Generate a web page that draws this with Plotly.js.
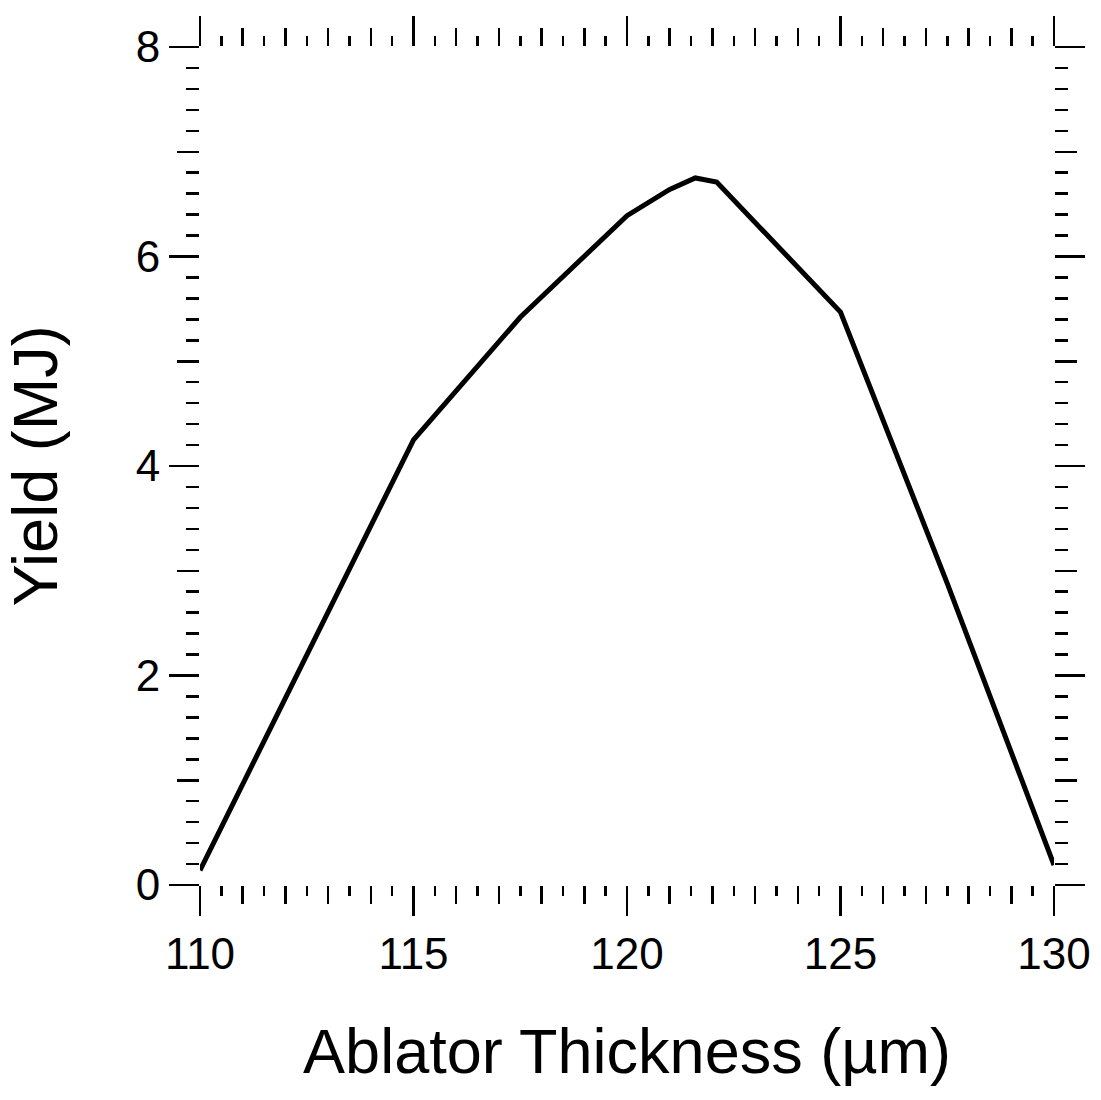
<!DOCTYPE html>
<html>
<head>
<meta charset="utf-8">
<script src="https://cdn.plot.ly/plotly-3.0.1.min.js"></script>
<style>html,body{margin:0;padding:0;background:#fff;}#chart{width:1101px;height:1100px;}</style>
</head>
<body>
<div id="chart"></div>
<script>
// Ablator thickness (µm) and yield (MJ)
const thickness = [110, 115, 117.5, 120, 121, 121.6, 122.1, 125, 127.5, 130];
const yieldMJ   = [0.14, 4.25, 5.42, 6.39, 6.64, 6.75, 6.71, 5.47, 2.88, 0.19];
const xTickVals = [110, 115, 120, 125, 130];
const xTickText = ['110', '115', '120', '125', '130'];
const yTickVals = [0, 2, 4, 6, 8];
const yTickText = ['0', '2', '4', '6', '8'];
const xTitle = 'Ablator Thickness (\u00b5m)';
const yTitle = 'Yield (MJ)';

const FONT = 'Liberation Sans, Arial, Helvetica, sans-serif';
const xRange = [110, 130];
const yRange = [0, 8];

const traces = [
  {
    x: thickness, y: yieldMJ, type: 'scatter', mode: 'lines',
    line: {color: '#000', width: 5}, hoverinfo: 'skip', showlegend: false
  },
  {
    x: thickness, y: yieldMJ, type: 'scatter', mode: 'lines',
    xaxis: 'x2', yaxis: 'y2',
    line: {color: 'rgba(0,0,0,0)', width: 0}, hoverinfo: 'skip', showlegend: false
  }
];

const common = {
  showgrid: false, zeroline: false, showline: false,
  ticks: 'outside', tickcolor: '#000', tickwidth: 2.5, mirror: 'ticks'
};

const layout = {
  width: 1101, height: 1100,
  margin: {l: 200, r: 47, t: 47, b: 215},
  paper_bgcolor: '#fff', plot_bgcolor: '#fff',
  font: {family: FONT, color: '#000'},
  showlegend: false,
  xaxis: Object.assign({}, common, {
    range: xRange, tickmode: 'array', tickvals: xTickVals, ticktext: xTickText,
    ticklen: 30, tickfont: {size: 44, family: FONT, color: '#000'},
    minor: {dtick: 0.5, tick0: 110, ticks: 'outside', ticklen: 10, tickwidth: 2.5, tickcolor: '#000', showgrid: false},
    title: {text: xTitle, font: {size: 63, family: FONT, color: '#000'}, standoff: 52},
    automargin: false
  }),
  yaxis: Object.assign({}, common, {
    range: yRange, tickmode: 'array', tickvals: yTickVals, ticktext: yTickText,
    ticklen: 30, tickfont: {size: 44, family: FONT, color: '#000'},
    minor: {dtick: 0.2, tick0: 0, ticks: 'outside', ticklen: 13, tickwidth: 2.5, tickcolor: '#000', showgrid: false},
    title: {text: yTitle, font: {size: 63, family: FONT, color: '#000'}, standoff: 58},
    automargin: false
  }),
  xaxis2: Object.assign({}, common, {
    range: xRange, overlaying: 'x', anchor: 'y2', side: 'bottom',
    dtick: 1, tick0: 110, ticklen: 18, showticklabels: false
  }),
  yaxis2: Object.assign({}, common, {
    range: yRange, overlaying: 'y', anchor: 'x2', side: 'left',
    dtick: 1, tick0: 0, ticklen: 22, showticklabels: false
  })
};

Plotly.newPlot('chart', traces, layout, {displayModeBar: false, staticPlot: true});
</script>
</body>
</html>
